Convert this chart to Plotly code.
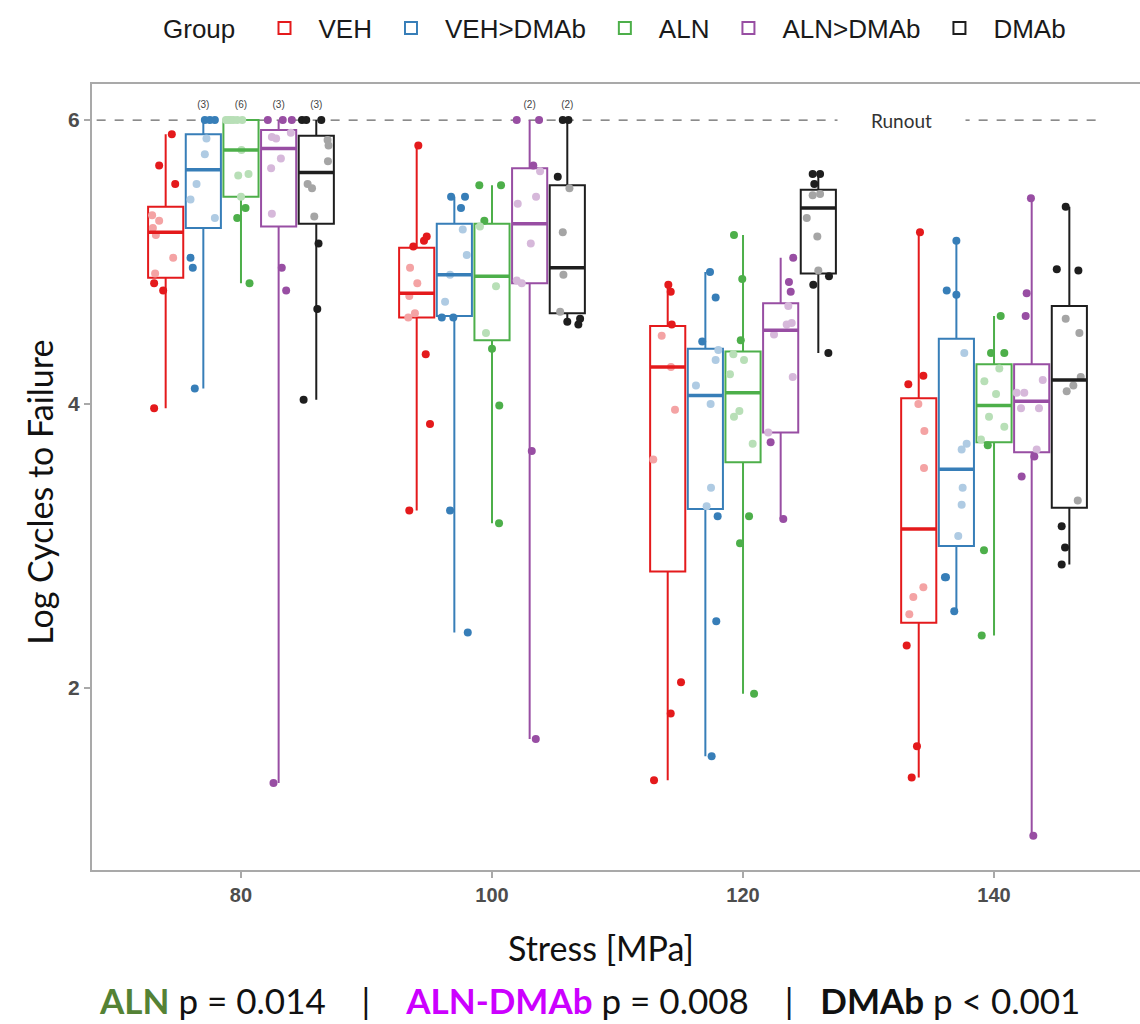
import plotly.graph_objects as go

# ---------------- data ----------------
STRESS = [80, 100, 120, 140]
GROUPS = ["VEH", "VEH>DMAb", "ALN", "ALN>DMAb", "DMAb"]
RUNOUT = 6.0

# box statistics per group, one value per stress level
VEH_Q1 = [4.89, 4.61, 2.82, 2.46]
VEH_MED = [5.21, 4.78, 4.26, 3.12]
VEH_Q3 = [5.39, 5.10, 4.55, 4.04]
VEH_LO = [3.97, 3.25, 1.35, 1.37]
VEH_HI = [5.90, 5.82, 4.84, 5.21]

VD_Q1 = [5.24, 4.62, 3.26, 3.00]
VD_MED = [5.65, 4.91, 4.06, 3.54]
VD_Q3 = [5.90, 5.27, 4.39, 4.46]
VD_LO = [4.11, 2.39, 1.52, 2.54]
VD_HI = [6.00, 5.46, 4.93, 5.15]

ALN_Q1 = [5.46, 4.45, 3.59, 3.73]
ALN_MED = [5.79, 4.90, 4.08, 3.99]
ALN_Q3 = [6.00, 5.27, 4.37, 4.28]
ALN_LO = [4.85, 3.16, 1.96, 2.37]
ALN_HI = [6.00, 5.54, 5.19, 4.62]

AD_Q1 = [5.25, 4.85, 3.80, 3.66]
AD_MED = [5.80, 5.27, 4.52, 4.02]
AD_Q3 = [5.93, 5.66, 4.71, 4.28]
AD_LO = [1.33, 1.64, 3.19, 0.96]
AD_HI = [6.00, 6.00, 5.03, 5.45]

DM_Q1 = [5.27, 4.64, 4.92, 3.27]
DM_MED = [5.63, 4.96, 5.38, 4.17]
DM_Q3 = [5.89, 5.54, 5.51, 4.69]
DM_LO = [4.03, 4.56, 4.36, 2.87]
DM_HI = [6.00, 6.00, 5.62, 5.39]

# individual specimens (log cycles) per stress level, and their read jitter (MPa)
VEH_PTS = [
    [5.90, 5.68, 5.55, 5.33, 5.29, 5.24, 5.19, 5.03, 4.92, 4.85, 4.80, 3.97],
    [5.82, 5.15, 5.18, 5.11, 4.96, 4.85, 4.76, 4.64, 4.61, 4.35, 3.86, 3.25],
    [4.84, 4.79, 4.56, 4.48, 4.26, 3.96, 3.61, 2.04, 1.82, 1.35],
    [5.21, 4.14, 4.20, 4.00, 3.81, 3.55, 2.71, 2.64, 2.52, 2.30, 1.59, 1.37],
]
VEH_JIT = [
    [0.49, -0.52, 0.76, -1.08, -0.52, -1.02, -0.78, 0.60, -0.84, -0.92, -0.20, -0.92],
    [0.13, 0.58, 0.80, -0.27, -0.53, 0.05, -0.59, -0.14, -0.67, 0.72, 1.06, -0.59],
    [0.05, 0.24, 0.32, -0.48, 0.26, 0.58, -1.15, 1.06, 0.24, -1.09],
    [0.10, -0.83, 0.37, -0.03, 0.45, 0.42, 0.37, -0.43, -0.75, -0.96, -0.14, -0.56],
]

VD_PTS = [
    [6.0, 6.0, 6.0, 5.87, 5.76, 5.55, 5.44, 5.31, 5.03, 4.96, 4.11],
    [5.46, 5.46, 5.38, 5.23, 5.05, 4.91, 4.72, 4.61, 4.61, 3.25, 2.39],
    [4.93, 4.75, 4.44, 4.38, 4.31, 4.13, 4.00, 3.41, 3.28, 3.21, 2.47, 1.52],
    [5.15, 4.80, 4.77, 4.36, 3.72, 3.68, 3.41, 3.29, 3.07, 2.78, 2.78, 2.54],
]
VD_JIT = [
    [0.12, 0.52, 0.92, 0.25, 0.12, -0.54, -1.02, 0.92, -1.02, -0.84, -0.68],
    [-0.26, 0.85, 0.53, 0.67, 0.99, -0.34, -0.74, -1.00, -0.08, -0.34, 1.07],
    [0.37, 0.82, -0.25, 1.03, 0.82, -0.75, 0.42, 0.45, 0.10, 0.98, 0.87, 0.50],
    [0.00, -0.77, 0.00, 0.63, 0.82, 0.42, 0.50, 0.42, 0.15, -0.91, -0.83, -0.17],
]

ALN_PTS = [
    [6.0, 6.0, 6.0, 6.0, 6.0, 6.0, 5.79, 5.61, 5.62, 5.46, 5.38, 5.31, 4.85],
    [5.54, 5.54, 5.29, 5.25, 4.83, 4.50, 4.39, 3.99, 3.16],
    [5.19, 4.88, 4.45, 4.35, 4.31, 4.21, 3.95, 3.91, 3.72, 3.21, 3.02, 1.96],
    [4.62, 4.36, 4.36, 4.25, 4.16, 4.07, 3.91, 3.84, 3.75, 3.71, 2.97, 2.37],
]
ALN_JIT = [
    [-1.20, -1.00, -0.80, -0.60, -0.30, 0.10, 0.04, -0.22, 0.60, 0.00, 0.36, -0.30, 0.68],
    [-1.01, 0.72, -0.61, -0.96, 0.32, -0.48, 0.00, 0.58, 0.56],
    [-0.72, -0.06, -0.18, -0.77, 0.08, -1.04, -0.29, -0.72, 0.77, 0.48, -0.24, 0.88],
    [0.53, -0.24, 0.82, 0.42, -0.77, 0.16, -0.40, 0.82, -1.04, -0.50, -0.80, -0.98],
]

AD_PTS = [
    [6.0, 6.0, 6.0, 5.88, 5.87, 5.91, 5.73, 5.66, 5.34, 4.96, 4.80, 1.33],
    [6.0, 6.0, 5.68, 5.64, 5.46, 5.41, 5.13, 4.87, 4.85, 3.67, 1.64],
    [5.03, 4.86, 4.79, 4.69, 4.56, 4.57, 4.49, 4.19, 3.80, 3.73, 3.19],
    [5.45, 4.78, 4.62, 4.17, 4.08, 4.08, 3.97, 3.97, 3.68, 3.63, 3.49, 0.96],
]
AD_JIT = [
    [-0.86, 0.33, 1.05, -0.54, -0.20, 0.97, 0.18, -0.60, -0.54, 0.25, 0.60, -0.41],
    [-1.03, 0.75, 0.29, 0.83, 0.51, -0.95, 0.09, -1.03, -0.63, 0.17, 0.49],
    [1.00, 0.66, 0.80, 0.61, 0.48, 0.88, -0.53, 0.96, -0.99, -0.80, 0.21],
    [-0.06, -0.40, -0.48, 0.88, -1.20, -0.59, -0.85, 0.58, 0.40, 0.21, -0.80, 0.13],
]

DM_PTS = [
    [6.0, 6.0, 6.0, 5.86, 5.82, 5.71, 5.55, 5.52, 5.32, 5.13, 4.67, 4.03],
    [6.0, 6.0, 5.60, 5.52, 5.21, 4.91, 4.65, 4.58, 4.56, 4.60],
    [5.62, 5.62, 5.55, 5.47, 5.48, 5.31, 5.18, 4.94, 4.84, 4.90, 4.36],
    [5.39, 4.95, 4.94, 4.60, 4.50, 4.19, 4.13, 4.09, 3.32, 3.14, 2.99, 2.87],
]
DM_JIT = [
    [-1.14, -0.80, 0.40, 0.90, 0.98, 0.93, -0.69, -0.34, -0.16, 0.18, 0.08, -1.01],
    [-0.36, 0.09, -0.76, 0.17, -0.36, -0.31, -0.57, 0.00, 0.88, 1.02],
    [-0.45, 0.14, -0.32, -0.45, 0.14, -0.92, -0.08, 0.00, -0.40, 0.85, 0.80],
    [-0.29, -1.00, 0.72, -0.29, 0.80, 0.91, 0.32, -0.21, 0.67, -0.61, -0.34, -0.61],
]

# number of specimens that reached runout (labelled above the line)
RUNOUT_N = {80: [0, 3, 6, 3, 3], 100: [0, 0, 0, 2, 2]}

# ---------------- styling ----------------
COLORS = ["#E41A1C", "#377EB8", "#4DAF4A", "#984EA3", "#1E1E1E"]
DODGE = [-6, -3, 0, 3, 6]          # MPa offsets of the dodged boxes
BOX_W = 2.8
FADE = 0.6                          # white overlay of the semi-transparent box fill


def fade(hex_color, a=FADE):
    h = hex_color.lstrip("#")
    r, g, b = (int(h[i:i + 2], 16) for i in (0, 2, 4))
    r, g, b = (round(c * (1 - a) + 255 * a) for c in (r, g, b))
    return f"rgb({r},{g},{b})"


STATS = [
    (VEH_Q1, VEH_MED, VEH_Q3, VEH_LO, VEH_HI),
    (VD_Q1, VD_MED, VD_Q3, VD_LO, VD_HI),
    (ALN_Q1, ALN_MED, ALN_Q3, ALN_LO, ALN_HI),
    (AD_Q1, AD_MED, AD_Q3, AD_LO, AD_HI),
    (DM_Q1, DM_MED, DM_Q3, DM_LO, DM_HI),
]
POINTS = [(VEH_PTS, VEH_JIT), (VD_PTS, VD_JIT), (ALN_PTS, ALN_JIT),
          (AD_PTS, AD_JIT), (DM_PTS, DM_JIT)]

fig = go.Figure()

for gi, name in enumerate(GROUPS):
    q1, med, q3, lo, hi = STATS[gi]
    col = COLORS[gi]
    xpos = [s + DODGE[gi] for s in STRESS]
    fig.add_trace(go.Box(
        x=xpos, q1=q1, median=med, q3=q3, lowerfence=lo, upperfence=hi,
        name=name, width=BOX_W, whiskerwidth=0, boxpoints=False,
        line=dict(color=col, width=2), fillcolor="rgba(255,255,255,0)",
        hoverinfo="skip",
    ))

for gi, name in enumerate(GROUPS):
    q1, med, q3, lo, hi = STATS[gi]
    pts, jit = POINTS[gi]
    col = COLORS[gi]
    xs, ys, cs = [], [], []
    for si, s in enumerate(STRESS):
        for v, j in zip(pts[si], jit[si]):
            xs.append(s + DODGE[gi] + j)
            ys.append(v)
            cs.append(fade(col) if q1[si] <= v <= q3[si] else col)
    fig.add_trace(go.Scatter(
        x=xs, y=ys, mode="markers", showlegend=False, hoverinfo="skip",
        marker=dict(size=8, color=cs, line=dict(width=0)),
    ))
    # thicker median bar (as ggplot draws it)
    mx, my = [], []
    for si, s in enumerate(STRESS):
        c = s + DODGE[gi]
        mx += [c - BOX_W / 2, c + BOX_W / 2, None]
        my += [med[si], med[si], None]
    fig.add_trace(go.Scatter(
        x=mx, y=my, mode="lines", showlegend=False, hoverinfo="skip",
        line=dict(color=col, width=3.5),
    ))

# runout counts
for s, counts in RUNOUT_N.items():
    tx, tt = [], []
    for gi, n in enumerate(counts):
        if n:
            tx.append(s + DODGE[gi])
            tt.append(f"({n})")
    fig.add_trace(go.Scatter(
        x=tx, y=[RUNOUT + 0.1] * len(tx), text=tt, mode="text",
        showlegend=False, hoverinfo="skip",
        textfont=dict(size=10, color="#444444", family="Liberation Sans"),
    ))

# runout reference line
fig.add_shape(type="line", xref="x", yref="y", x0=68.5, x1=148.4,
              y0=RUNOUT, y1=RUNOUT, layer="below",
              line=dict(color="#666666", width=1.2, dash="dash"))
fig.add_annotation(x=132.6, y=RUNOUT, xref="x", yref="y", text="Runout",
                   showarrow=False, bgcolor="white", width=125, height=24,
                   font=dict(size=19, color="#333333", family="Lato"))

GRID_GRAY = "#A9A9A9"
fig.update_layout(
    width=1140, height=1024,
    margin=dict(l=92, r=0, t=84, b=154),
    plot_bgcolor="white", paper_bgcolor="white",
    boxmode="overlay",
    font=dict(family="Liberation Sans", color="#1A1A1A"),
    legend=dict(
        orientation="h", x=0.5, xanchor="center", y=1.071, yanchor="middle",
        title=dict(text="Group ", side="left", font=dict(size=26)),
        font=dict(size=26, color="#1A1A1A"), itemwidth=58,
        bgcolor="rgba(0,0,0,0)",
    ),
    xaxis=dict(
        range=[68.13, 151.63], tickvals=STRESS, showgrid=False, zeroline=False,
        showline=True, linecolor=GRID_GRAY, linewidth=2, mirror=True,
        ticks="outside", ticklen=6, tickwidth=1.5, tickcolor=GRID_GRAY,
        tickfont=dict(size=20, color="#4D4D4D", family="Liberation Sans", weight="bold"),
    ),
    yaxis=dict(
        range=[0.718, 6.254], tickvals=[2, 4, 6], showgrid=False, zeroline=False,
        showline=True, linecolor=GRID_GRAY, linewidth=2,
        ticks="outside", ticklen=6, tickwidth=1.5, tickcolor=GRID_GRAY,
        tickfont=dict(size=21, color="#4D4D4D", family="Liberation Sans", weight="bold"),
    ),
)

TITLE_FONT = dict(family="Lato", size=34, color="#111111")
fig.add_annotation(text="Log Cycles to Failure", xref="paper", yref="paper",
                   x=-0.0496, y=0.48, textangle=-90, showarrow=False,
                   xanchor="center", yanchor="middle", font=TITLE_FONT)
fig.add_annotation(text="Stress [MPa]", xref="paper", yref="paper",
                   x=0.486, y=-0.099, showarrow=False,
                   xanchor="center", yanchor="middle", font=TITLE_FONT)

NB = "\u00a0"
bottom = (
    '<b><span style="color:#548235">ALN</span></b> p = 0.014' + NB * 4 + "|" + NB * 4 +
    '<b><span style="color:#CC00FF">ALN-DMAb</span></b> p = 0.008' + NB * 4 + "|" + NB * 3 +
    "<b>DMAb</b> p &lt; 0.001"
)
fig.add_annotation(text=bottom, xref="paper", yref="paper", x=0.475, y=-0.165,
                   showarrow=False, xanchor="center", yanchor="middle",
                   font=dict(family="Lato", size=35, color="#111111"))

fig.write_html("out.html", config={"displayModeBar": False},
               post_script="document.body.style.margin='0';")
